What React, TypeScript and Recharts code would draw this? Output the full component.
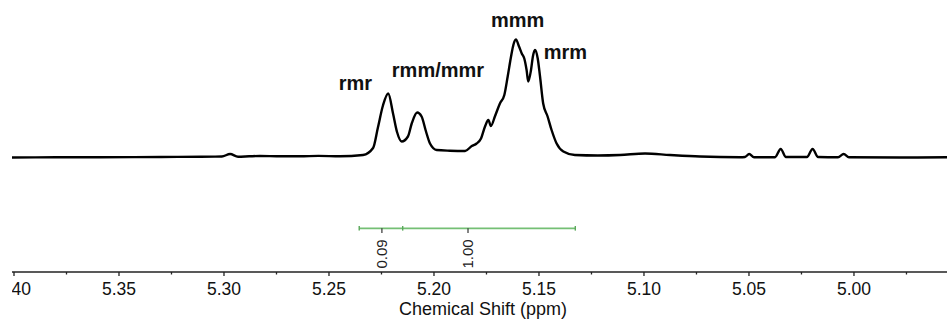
import { LineChart, Line, XAxis, YAxis, ReferenceLine, ReferenceDot, Label } from 'recharts'

// 1H NMR trace, methine region (ppm, intensity)
const shiftPpm = [
  5.401, 5.38, 5.359, 5.33, 5.311, 5.301, 5.2971, 5.2933, 5.288, 5.2829, 5.275, 5.2638, 5.255,
  5.2448, 5.2338, 5.229, 5.2267, 5.2243, 5.2218, 5.2195, 5.2176, 5.2154, 5.2124, 5.2106, 5.208,
  5.2059, 5.2038, 5.2019, 5.1987, 5.1924, 5.1852, 5.182, 5.1797, 5.1776, 5.1757, 5.1741, 5.1729,
  5.171, 5.1686, 5.1665, 5.1649, 5.1633, 5.1622, 5.161, 5.1595, 5.1582, 5.157, 5.1559, 5.1551,
  5.1538, 5.1529, 5.1519, 5.1506, 5.1495, 5.148, 5.1459, 5.144, 5.1416, 5.1384, 5.1329, 5.1219,
  5.1114, 5.0995, 5.0876, 5.0733, 5.0543, 5.0519, 5.0499, 5.0476, 5.0376, 5.0349, 5.0324, 5.0224,
  5.0197, 5.0171, 5.0076, 5.0049, 5.0024, 4.9781, 4.9557,
]
const intensity = [
  0, 0.2, 0.3, 0.5, 0.8, 1, 3.5, 0.8, 1.2, 1.5, 1.3, 1.2, 1.6,
  1.2, 2.5, 9.5, 30, 52, 64, 44, 25.5, 16, 21, 34, 45,
  41, 26, 14, 7.5, 6.8, 6.5, 11.5, 14, 19, 31, 37.5, 31.5,
  41, 54, 62.5, 81, 101, 112.5, 118, 111, 104, 99, 87.5, 76,
  87.5, 101, 107.5, 99, 81, 54, 41, 27.5, 14, 6, 2.5, 2,
  2.5, 4, 2.5, 1, 0.3, 0.5, 3.5, 0.3, 0.3, 8.5, 0.5, 0.5,
  8.5, 0.5, 0.3, 3.5, 0.3, 0, 0.2,
]

const majorTicks = [5.4, 5.35, 5.3, 5.25, 5.2, 5.15, 5.1, 5.05, 5.0]
const minorTicks = [5.375, 5.325, 5.275, 5.225, 5.175, 5.125, 5.075, 5.025, 4.975]

// integration ranges and their values
const integralEdges = [5.2356, 5.2149, 5.1327]
const integralValues = ['0.09', '1.00']
const integralLabelPpm = [5.2248, 5.1838]

// tacticity assignments
const peakNames = ['rmr', 'rmm/mmr', 'mmm', 'mrm']
const peakLabelPpm = [5.2374, 5.1981, 5.1602, 5.1374]
const peakLabelLevel = [67.5, 80.5, 130.5, 98.5]

const data = shiftPpm.map((ppm, i) => ({ ppm, intensity: intensity[i] }))
const allTicks = [...majorTicks, ...minorTicks].sort((a, b) => b - a)

const INTEGRAL_Y = -70.8

function PpmTick({ x, y, payload }: any) {
  const major = majorTicks.some(t => Math.abs(t - payload.value) < 1e-6)
  return (
    <g>
      <line x1={x} x2={x} y1={y} y2={y + (major ? 4 : 2.5)} stroke="#222" strokeWidth={1.3} />
      {major && (
        <text x={x} y={y + 23} textAnchor="middle" fontSize={17.5} fill="#111">
          {payload.value.toFixed(2)}
        </text>
      )}
    </g>
  )
}

export default function App() {
  return (
    <div style={{ position: 'absolute', left: 0, top: 0, width: 947, height: 320, background: '#fff', overflow: 'hidden', fontFamily: 'Arial, "Liberation Sans", sans-serif' }}>
      <div style={{ position: 'absolute', left: 12, top: 0, width: 935, height: 320, overflow: 'hidden' }}>
        <div style={{ position: 'absolute', left: -20, top: 0 }}>
          <LineChart width={955} height={320} data={data} margin={{ top: 0, right: 0, bottom: 0, left: 20 }}>
            <XAxis
              dataKey="ppm"
              type="number"
              reversed
              domain={[4.9557, 5.40095]}
              allowDataOverflow
              ticks={allTicks}
              interval={0}
              tickSize={0}
              tickMargin={0}
              tickLine={false}
              tick={<PpmTick />}
              height={48}
              axisLine={{ stroke: '#222', strokeWidth: 1.5 }}
            >
              <Label
                content={(props: any) => {
                  const vb = props.viewBox
                  return (
                    <text x={vb.x + vb.width / 2 + 3.5} y={vb.y + 43} textAnchor="middle" fontSize={18} fill="#111">
                      Chemical Shift (ppm)
                    </text>
                  )
                }}
              />
            </XAxis>
            <YAxis hide type="number" domain={[-114.5, 157.5]} allowDataOverflow />

            {/* integration bar */}
            <ReferenceLine
              segment={[{ x: integralEdges[0], y: INTEGRAL_Y }, { x: integralEdges[integralEdges.length - 1], y: INTEGRAL_Y }]}
              stroke="#74bf74"
              strokeWidth={1.8}
            />
            {integralEdges.map(p => (
              <ReferenceLine
                key={'edge' + p}
                segment={[{ x: p, y: INTEGRAL_Y + 2.3 }, { x: p, y: INTEGRAL_Y - 2.3 }]}
                stroke="#5aa85a"
                strokeWidth={1.4}
              />
            ))}
            {integralLabelPpm.map((p, i) => (
              <ReferenceLine
                key={'it' + i}
                segment={[{ x: p, y: INTEGRAL_Y }, { x: p, y: INTEGRAL_Y - 4.7 }]}
                stroke="#333"
                strokeWidth={1.2}
              />
            ))}
            {integralLabelPpm.map((p, i) => (
              <ReferenceDot
                key={'iv' + i}
                x={p}
                y={INTEGRAL_Y - 11}
                r={0}
                shape={(s: any) => (
                  <text
                    x={s.cx}
                    y={s.cy}
                    transform={`rotate(-90 ${s.cx} ${s.cy})`}
                    textAnchor="end"
                    dominantBaseline="central"
                    fontSize={15}
                    fill="#222"
                  >
                    {integralValues[i]}
                  </text>
                )}
              />
            ))}

            <Line
              type="monotone"
              dataKey="intensity"
              stroke="#000"
              strokeWidth={2.4}
              dot={false}
              activeDot={false}
              isAnimationActive={false}
            />

            {peakNames.map((name, i) => (
              <ReferenceDot
                key={name}
                x={peakLabelPpm[i]}
                y={peakLabelLevel[i]}
                r={0}
                shape={(s: any) => (
                  <text x={s.cx} y={s.cy} textAnchor="middle" fontSize={20} fontWeight="bold" fill="#111">
                    {name}
                  </text>
                )}
              />
            ))}
          </LineChart>
        </div>
      </div>
    </div>
  )
}
